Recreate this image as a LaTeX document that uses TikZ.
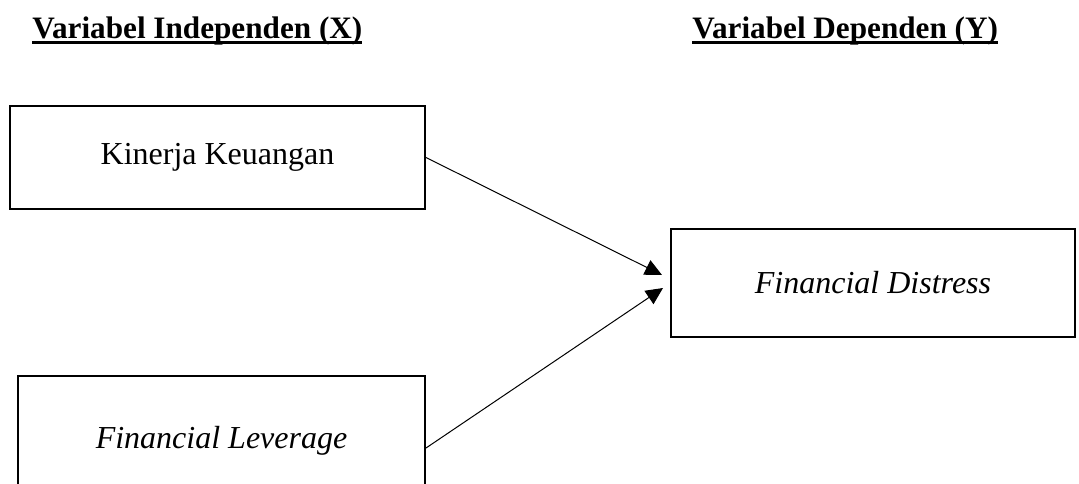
\documentclass[tikz,border=0pt]{standalone}
\usepackage{fontspec}
\setmainfont{Liberation Serif}
\usepackage{tikz}
\usetikzlibrary{arrows.meta}
\newcommand{\ulbox}[1]{\setbox0\hbox{#1}\rlap{\vrule height -1.5pt depth 3pt width \wd0}\box0}
\tikzset{
  box/.style={draw=black, line width=1pt, font=\fontsize{16}{19}\selectfont, inner sep=0pt},
  head/.style={anchor=base west, inner sep=0pt, font=\fontsize{15.6}{19}\selectfont\bfseries},
  link/.style={draw=black, line width=0.5pt, -{Triangle[length=8.5pt,width=8pt]}},
}

\begin{document}
\begin{tikzpicture}[x=0.5pt, y=-0.5pt]
  \useasboundingbox (0,0) rectangle (1079,483);
  % headings
  \node[head] (hx) at (32,38) {\ulbox{Variabel Independen (X)}};
  \node[head] (hy) at (692,38) {\ulbox{Variabel Dependen (Y)}};
  % variables
  \node[box, minimum width=207.5pt, minimum height=51.5pt] (kk) at (217.5,157.5) {Kinerja Keuangan};
  \node[box, minimum width=203.5pt, minimum height=64.5pt] (fl) at (221.5,440.5) {\textit{Financial Leverage}};
  \node[box, minimum width=202pt, minimum height=54pt] (fd) at (873,283) {\textit{Financial Distress}};
  % arrow ends
  \coordinate (in-kk) at (662,275);
  \coordinate (in-fl) at (663,288);
  \draw[link] (kk.east) -- (in-kk);
  \draw[link] ([yshift=-3.75pt]fl.east) -- (in-fl);
\end{tikzpicture}
\end{document}
